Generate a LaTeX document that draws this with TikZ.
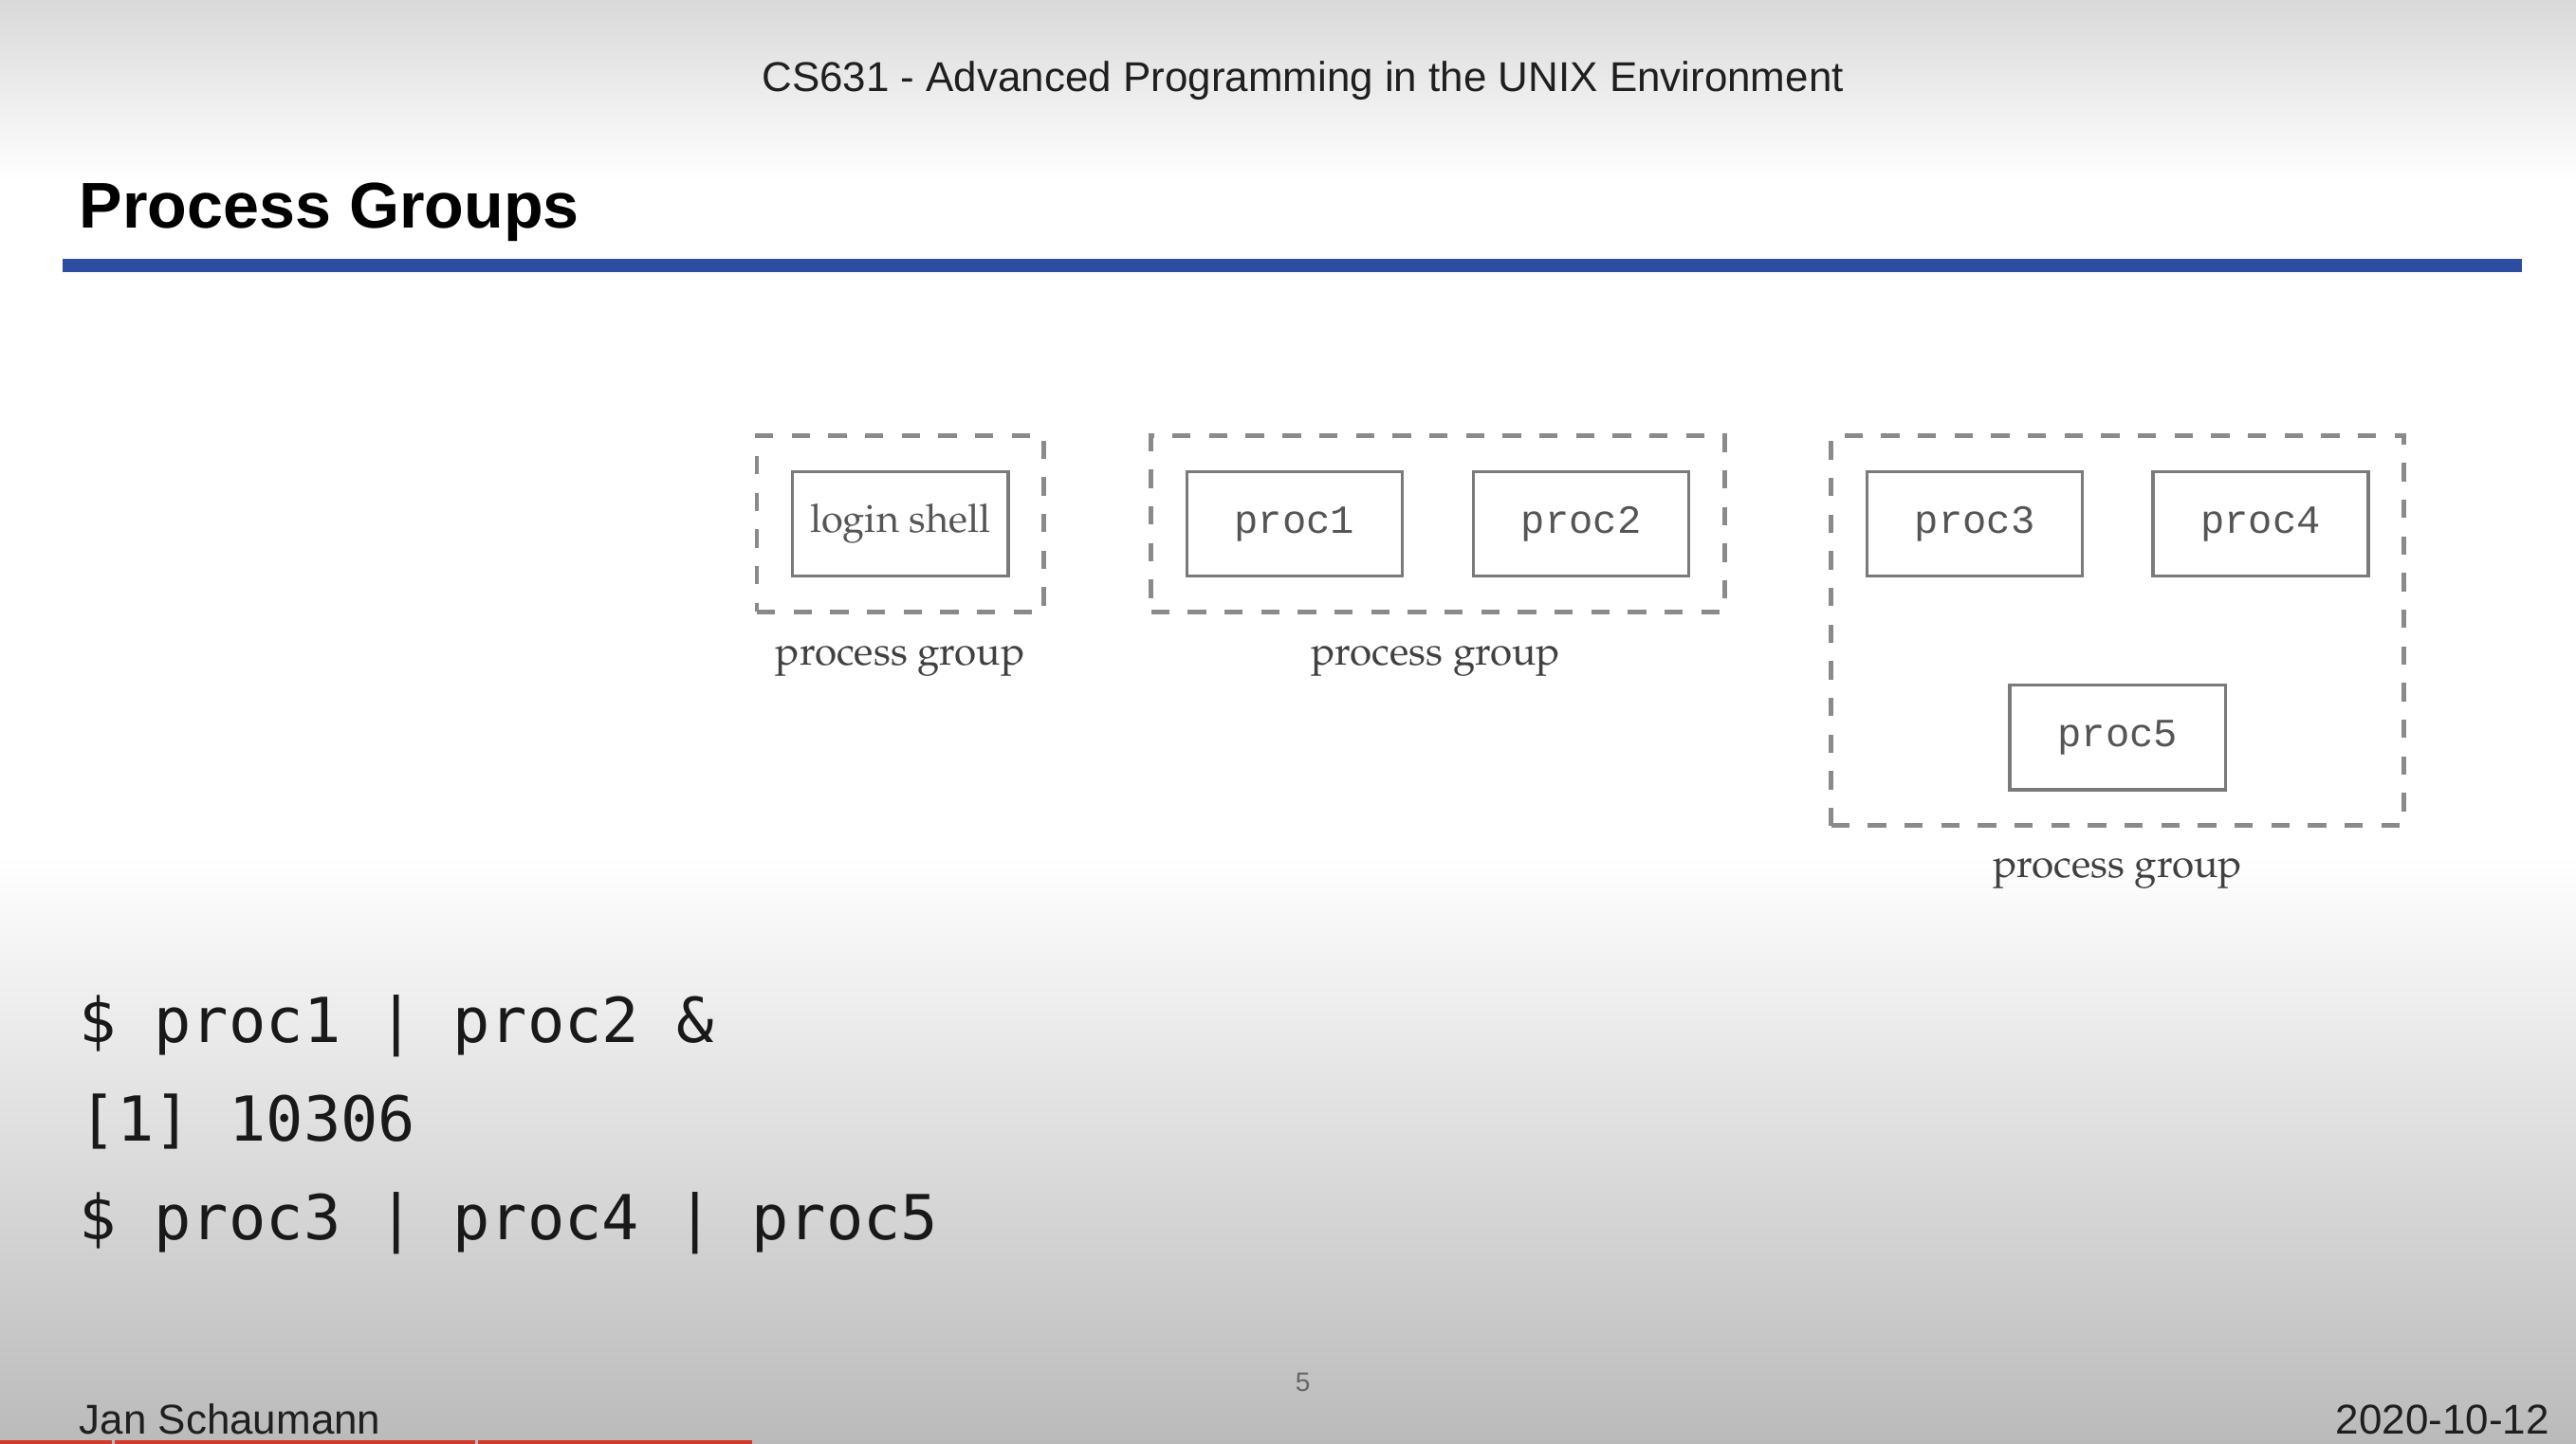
\documentclass[tikz,border=0pt]{standalone}
\usepackage{fontspec}
\usepackage[T1,TU]{fontenc}
\usetikzlibrary{fit}

\newfontfamily\slidefont{Liberation Sans}
\newfontfamily\codefont{DejaVu Sans Mono}
\newfontfamily\procfont{Liberation Mono}
\newcommand\bookfont{\usefont{T1}{ppl}{m}{n}}

\definecolor{slideblue}{HTML}{2D4EA0}
\definecolor{boxgray}{HTML}{7A7A7A}
\definecolor{dashgray}{HTML}{8A8A8A}
\definecolor{textgray}{HTML}{555555}
\definecolor{ytred}{HTML}{D23A2E}

\tikzset{
  procbox/.style={draw=boxgray, line width=1pt, minimum width=2.27cm, minimum height=1.1cm,
    inner sep=0pt, text=textgray, font=\procfont\fontsize{12}{14}\selectfont},
  groupbox/.style={draw=dashgray, line width=1.3pt, dash pattern=on 5.5pt off 5.5pt, inner sep=0.36cm},
  grouplabel/.style={anchor=base, inner sep=0pt, text=black!75, font=\bookfont\fontsize{12}{14}\selectfont},
  slidetext/.style={inner sep=0pt, text=black!88, font=\slidefont\fontsize{12.5}{15}\selectfont},
  codeline/.style={anchor=base west, inner sep=0pt, text=black!90, font=\codefont\fontsize{18.6}{22}\selectfont},
}

\begin{document}
\begin{tikzpicture}[x=0.017321cm, y=-0.017321cm]
        \useasboundingbox (0,0) rectangle (1568,879);

        % Slide background
        \shade[top color=gray!30, bottom color=white] (0,0) rectangle (1568,110);
        \fill[white] (0,110) rectangle (1568,520);
        \shade[top color=white, bottom color=black!27] (0,520) rectangle (1568,879);

        % Header and title
        \node[slidetext, anchor=base] (Header) at (793,56) {CS631 - Advanced Programming in the UNIX Environment};
        \node[anchor=base west, inner sep=0pt, font=\slidefont\bfseries\fontsize{19.4}{23}\selectfont] (Title) at (48,138.6) {Process Groups};
        \fill[slideblue] (38,157.5) rectangle (1535,165.5);

        % Nodes (processes)
        \node[procbox, font=\bookfont\fontsize{11.8}{14}\selectfont] (Login) at (548,319) {login shell};
        \node[procbox] (P1) at (788,319) {proc1};
        \node[procbox] (P2) at (962.5,319) {proc2};
        \node[procbox] (P3) at (1202,319) {proc3};
        \node[procbox] (P4) at (1376,319) {proc4};
        \node[procbox] (P5) at (1289,449) {proc5};

        % Process groups
        \node[groupbox, fit=(Login)] (G1) {};
        \node[groupbox, fit=(P1) (P2)] (G2) {};
        \node[groupbox, fit=(P3) (P4) (P5)] (G3) {};

        \node[grouplabel] (L1) at (548,405) {process group};
        \node[grouplabel] (L2) at (874,405) {process group};
        \node[grouplabel] (L3) at (1289,534.5) {process group};

        % Shell session
        \node[codeline] (C1) at (48,635) {\$ proc1 | proc2 \&};
        \node[codeline] (C2) at (48,695) {[1] 10306};
        \node[codeline] (C3) at (48,755) {\$ proc3 | proc4 | proc5};

        % Footer
        \node[slidetext, anchor=base west] (Author) at (48,873) {Jan Schaumann};
        \node[slidetext, anchor=base east] (Date) at (1552,873) {2020-10-12};
        \node[anchor=base, inner sep=0pt, text=black!60, font=\slidefont\fontsize{8}{10}\selectfont] (Page) at (793,847) {5};

        % Progress strip
        \fill[ytred] (0,877) rectangle (68,879);
        \fill[ytred] (70,877) rectangle (289,879);
        \fill[ytred] (291,877) rectangle (458,879);

    \end{tikzpicture}
\end{document}
